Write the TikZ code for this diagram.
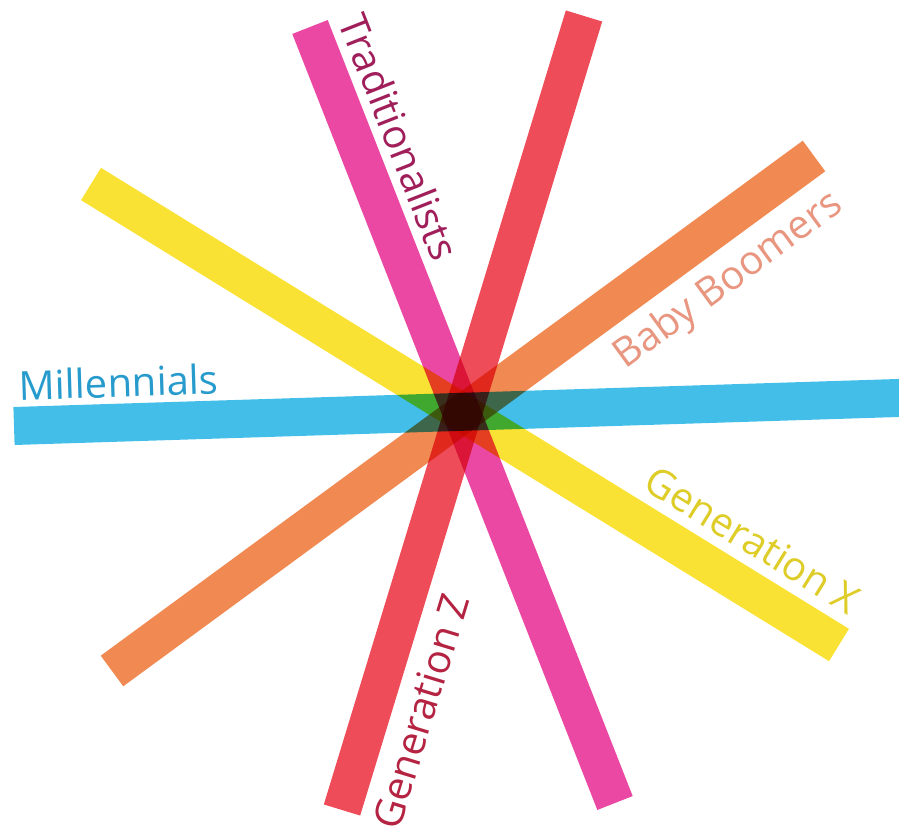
\documentclass[tikz,border=0pt]{standalone}
\usepackage{fontspec}
\setmainfont{Open Sans}
\definecolor{tradbar}{RGB}{234,72,162}
\definecolor{genzbar}{RGB}{238,76,88}
\definecolor{boombar}{RGB}{240,138,82}
\definecolor{genxbar}{RGB}{250,226,52}
\definecolor{millbar}{RGB}{66,190,232}
\definecolor{tradtxt}{RGB}{160,30,90}
\definecolor{genztxt}{RGB}{180,35,65}
\definecolor{boomtxt}{RGB}{232,150,128}
\definecolor{genxtxt}{RGB}{222,204,40}
\definecolor{milltxt}{RGB}{40,155,205}
\tikzset{
  bar/.style={line width=38pt, line cap=butt, blend mode=multiply},
  lbl/.style={inner sep=0pt, anchor=base, font=\fontsize{40}{48}\selectfont}
}
\begin{document}
\begin{tikzpicture}[x=1pt,y=1pt]
\useasboundingbox (0,0) rectangle (899,833);
\clip (0,0) rectangle (899,833);
% bar end points (image y converted: Y = 833 - y)
\coordinate (t1) at (310,806);   \coordinate (t2) at (615,30);
\coordinate (z1) at (584,817);   \coordinate (z2) at (342,23);
\coordinate (b1) at (814,677);   \coordinate (b2) at (112,162);
\coordinate (x1) at (91,649);    \coordinate (x2) at (839,188);
\coordinate (m1) at (14,407);    \coordinate (m2) at (930,436);
\begin{scope}[transparency group]
\draw[bar, genxbar] (x1) -- (x2);
\draw[bar, boombar] (b1) -- (b2);
\draw[bar, millbar] (m1) -- (m2);
\draw[bar, tradbar] (t1) -- (t2);
\draw[bar, genzbar] (z1) -- (z2);
\end{scope}
\node[lbl, text=tradtxt, rotate=-68.54] (trad) at (385.5,690.5) {Traditionalists};
\node[lbl, text=genztxt, rotate=73.05] (genz) at (434.6,117.5) {Generation Z};
\node[lbl, text=boomtxt, rotate=36.27] (boom) at (735.1,543.4) {Baby Boomers};
\node[lbl, text=genxtxt, rotate=-31.64] (genx) at (745.3,281) {Generation X};
\node[lbl, text=milltxt, rotate=1.81] (mill) at (119,436) {Millennials};
\end{tikzpicture}
\end{document}
